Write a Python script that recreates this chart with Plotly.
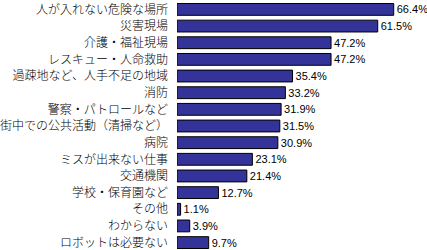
import plotly.graph_objects as go

categories = ["人が入れない危険な場所", "災害現場", "介護・福祉現場", "レスキュー・人命救助",
              "過疎地など、人手不足の地域", "消防", "警察・パトロールなど", "街中での公共活動（清掃など）",
              "病院", "ミスが出来ない仕事", "交通機関", "学校・保育園など", "その他", "わからない", "ロボットは必要ない"]
values = [66.4, 61.5, 47.2, 47.2, 35.4, 33.2, 31.9, 31.5, 30.9, 23.1, 21.4, 12.7, 1.1, 3.9, 9.7]
value_labels = [f"{v:.1f}%" for v in values]

font_family = "Noto Sans CJK JP"

fig = go.Figure(go.Bar(
    x=values, y=categories, orientation="h",
    marker=dict(color="#333399", line=dict(color="#000000", width=1)),
    text=value_labels, textposition="outside", cliponaxis=False, constraintext="none",
    textfont=dict(family="Liberation Sans", size=11, color="#000000"),
))

fig.update_layout(
    width=427, height=250,
    margin=dict(l=166, r=0, t=0, b=0),
    paper_bgcolor="white", plot_bgcolor="white",
    bargap=0.29, showlegend=False,
    font=dict(family=font_family, size=12, color="#000000", weight=300),
    xaxis=dict(range=[0, 76.6], visible=False),
    yaxis=dict(range=[14.385, -0.385], showgrid=False, showline=False,
               ticks="", ticklabelstandoff=8, tickfont=dict(size=12, weight=300)),
)

fig.write_html("out.html")
